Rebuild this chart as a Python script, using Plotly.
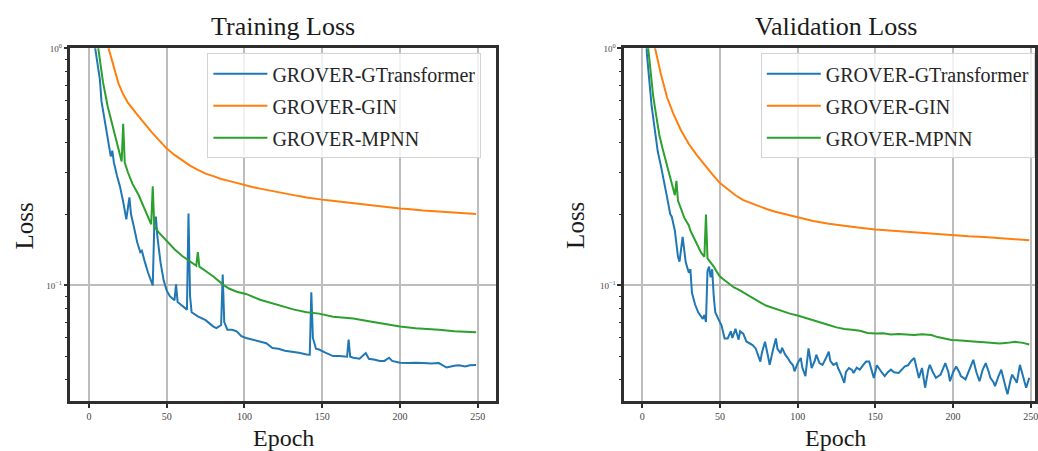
import plotly.graph_objects as go

# ---------------- data ----------------
series_names = ["GROVER-GTransformer", "GROVER-GIN", "GROVER-MPNN"]
series_colors = ["#1f77b4", "#ff7f0e", "#2ca02c"]

x_ticks = [0, 50, 100, 150, 200, 250]
x_tick_labels = ["0", "50", "100", "150", "200", "250"]
y_ticks = [0.1, 1.0]
y_tick_labels = ["10<sup>−1</sup>", "10<sup>0</sup>"]
minor_ticks = [0.04, 0.05, 0.06, 0.07, 0.08, 0.09, 0.2, 0.3, 0.4, 0.5, 0.6, 0.7, 0.8, 0.9]

# Training loss
train_gt_ep = [0, 3, 4, 7, 8, 10, 12, 14, 15, 16, 18, 20, 22, 24, 26, 27, 29, 31, 33, 34, 36, 38, 41, 42, 43, 44, 46, 48, 50, 52, 55, 56, 57, 60, 62, 63, 64, 65, 66, 70, 75, 80, 82, 85, 86, 87, 89, 92, 95, 98, 101, 105, 110, 114, 118, 122, 126, 130, 135, 140, 142, 143, 144, 146, 148, 152, 157, 161, 166, 167, 168, 170, 174, 178, 180, 184, 187, 190, 193, 195, 200, 205, 210, 215, 220, 225, 228, 230, 235, 238, 242, 245, 249]
train_gt = [3.0, 1.15, 1.0, 0.74, 0.6, 0.5, 0.42, 0.35, 0.37, 0.33, 0.29, 0.26, 0.225, 0.19, 0.235, 0.2, 0.175, 0.152, 0.138, 0.14, 0.125, 0.113, 0.1, 0.18, 0.195, 0.16, 0.125, 0.105, 0.095, 0.09, 0.0865, 0.101, 0.085, 0.082, 0.08, 0.079, 0.201, 0.09, 0.077, 0.074, 0.0713, 0.067, 0.066, 0.068, 0.111, 0.07, 0.065, 0.065, 0.064, 0.061, 0.06, 0.059, 0.058, 0.057, 0.0544, 0.054, 0.053, 0.0527, 0.052, 0.0511, 0.051, 0.0935, 0.06, 0.054, 0.0536, 0.052, 0.0503, 0.0503, 0.05, 0.059, 0.05, 0.0495, 0.049, 0.0518, 0.049, 0.0485, 0.048, 0.048, 0.0495, 0.048, 0.0472, 0.047, 0.0472, 0.047, 0.0468, 0.047, 0.046, 0.045, 0.0458, 0.046, 0.0455, 0.046, 0.0461]

train_gin_ep = [0, 5, 10, 13, 16, 19, 22, 25, 30, 35, 40, 45, 50, 55, 60, 65, 70, 75, 80, 85, 90, 95, 100, 105, 110, 115, 120, 125, 130, 135, 140, 145, 150, 155, 160, 165, 170, 175, 180, 185, 190, 195, 200, 205, 210, 215, 220, 225, 230, 235, 240, 245, 249]
train_gin = [3.0, 1.7, 1.15, 0.98, 0.82, 0.71, 0.64, 0.59, 0.535, 0.485, 0.445, 0.41, 0.378, 0.355, 0.336, 0.32, 0.307, 0.296, 0.289, 0.281, 0.276, 0.27, 0.265, 0.26, 0.256, 0.252, 0.248, 0.244, 0.241, 0.238, 0.235, 0.232, 0.23, 0.228, 0.226, 0.223, 0.222, 0.22, 0.218, 0.216, 0.214, 0.213, 0.211, 0.21, 0.208, 0.207, 0.206, 0.205, 0.204, 0.203, 0.203, 0.202, 0.2]

train_mpnn_ep = [0, 3, 6, 9, 12, 15, 18, 20, 21, 22, 23, 25, 28, 32, 35, 39, 40, 41, 42, 45, 49, 55, 60, 65, 69, 70, 71, 75, 80, 86, 90, 95, 101, 110, 118, 125, 132, 140, 148, 157, 165, 170, 180, 190, 200, 210, 220, 225, 235, 242, 249]
train_mpnn = [3.0, 1.6, 1.0, 0.72, 0.57, 0.475, 0.39, 0.345, 0.333, 0.48, 0.33, 0.3, 0.268, 0.24, 0.215, 0.185, 0.181, 0.262, 0.177, 0.167, 0.156, 0.142, 0.133, 0.126, 0.121, 0.138, 0.12, 0.115, 0.109, 0.101, 0.097, 0.094, 0.092, 0.087, 0.084, 0.081, 0.079, 0.077, 0.076, 0.0737, 0.0728, 0.0725, 0.0705, 0.0685, 0.067, 0.066, 0.0655, 0.0649, 0.064, 0.0638, 0.0634]

# Validation loss
val_gt_ep = [0, 2, 3, 6, 8, 10, 12, 15, 16, 18, 19, 20, 21, 23, 24, 26, 27, 28, 30, 31, 32, 34, 36, 38, 39, 40, 41, 42, 43, 44, 45, 46, 47, 49, 51, 53, 55, 57, 58, 60, 62, 63, 65, 67, 69, 71, 73, 74, 76, 77, 79, 81, 82, 84, 86, 87, 89, 90, 92, 94, 95, 97, 98, 100, 102, 103, 105, 107, 109, 111, 112, 114, 116, 118, 120, 121, 123, 125, 126, 128, 130, 131, 133, 135, 136, 138, 140, 142, 144, 146, 148, 149, 151, 152, 154, 156, 158, 160, 162, 165, 167, 169, 171, 173, 175, 176, 178, 180, 182, 184, 185, 187, 189, 192, 194, 195, 197, 198, 200, 202, 204, 205, 208, 210, 212, 213, 215, 217, 219, 221, 223, 224, 226, 227, 229, 231, 233, 235, 237, 238, 240, 241, 243, 245, 247, 249]
val_gt = [3.0, 1.3, 0.95, 0.574, 0.45, 0.367, 0.32, 0.26, 0.235, 0.2, 0.195, 0.182, 0.17, 0.132, 0.126, 0.16, 0.14, 0.125, 0.113, 0.117, 0.093, 0.083, 0.077, 0.074, 0.0722, 0.075, 0.07, 0.115, 0.12, 0.108, 0.117, 0.09, 0.077, 0.072, 0.0678, 0.0597, 0.0597, 0.064, 0.06, 0.0656, 0.059, 0.064, 0.0626, 0.058, 0.0569, 0.056, 0.0542, 0.052, 0.0477, 0.052, 0.0578, 0.05, 0.0462, 0.053, 0.0597, 0.054, 0.0517, 0.0545, 0.051, 0.049, 0.0477, 0.046, 0.0434, 0.047, 0.0494, 0.045, 0.0414, 0.0542, 0.0448, 0.048, 0.051, 0.047, 0.0462, 0.049, 0.0525, 0.048, 0.0462, 0.047, 0.0448, 0.042, 0.0388, 0.043, 0.0448, 0.044, 0.0427, 0.045, 0.0441, 0.046, 0.0477, 0.0477, 0.043, 0.0407, 0.046, 0.0448, 0.043, 0.0414, 0.043, 0.0441, 0.043, 0.0427, 0.044, 0.0455, 0.046, 0.048, 0.0494, 0.046, 0.0407, 0.0448, 0.037, 0.044, 0.0462, 0.043, 0.0407, 0.042, 0.045, 0.047, 0.043, 0.0394, 0.043, 0.0455, 0.043, 0.0414, 0.0401, 0.043, 0.046, 0.0485, 0.043, 0.0394, 0.044, 0.047, 0.043, 0.0407, 0.039, 0.0376, 0.041, 0.0441, 0.039, 0.0347, 0.04, 0.042, 0.04, 0.0388, 0.0462, 0.041, 0.037, 0.0407]

val_gin_ep = [0, 4, 8, 12, 16, 20, 25, 30, 35, 40, 45, 50, 55, 60, 65, 70, 75, 80, 85, 90, 95, 100, 110, 120, 125, 130, 140, 150, 160, 170, 175, 180, 190, 200, 210, 220, 225, 230, 240, 249]
val_gin = [3.0, 1.6, 1.02, 0.78, 0.62, 0.53, 0.45, 0.395, 0.355, 0.322, 0.295, 0.27, 0.254, 0.24, 0.229, 0.222, 0.215, 0.21, 0.205, 0.201, 0.197, 0.194, 0.187, 0.182, 0.18, 0.178, 0.175, 0.172, 0.17, 0.168, 0.167, 0.166, 0.164, 0.163, 0.161, 0.16, 0.159, 0.158, 0.157, 0.155]

val_mpnn_ep = [0, 2, 4, 7, 9, 11, 13, 16, 18, 20, 21, 22, 23, 25, 27, 30, 31, 34, 36, 38, 40, 41, 42, 44, 46, 48, 50, 53, 56, 59, 62, 66, 70, 73, 77, 80, 83, 87, 91, 95, 100, 105, 110, 115, 120, 125, 130, 135, 140, 145, 150, 155, 160, 165, 170, 175, 180, 186, 190, 195, 199, 205, 210, 215, 220, 225, 230, 235, 240, 245, 249]
val_mpnn = [3.0, 1.5, 0.98, 0.632, 0.52, 0.431, 0.38, 0.32, 0.28, 0.25, 0.24, 0.276, 0.228, 0.21, 0.193, 0.179, 0.17, 0.155, 0.145, 0.137, 0.132, 0.199, 0.13, 0.125, 0.12, 0.114, 0.109, 0.105, 0.101, 0.098, 0.096, 0.0925, 0.089, 0.087, 0.084, 0.082, 0.0807, 0.079, 0.0775, 0.076, 0.0746, 0.073, 0.0715, 0.07, 0.068, 0.0665, 0.0655, 0.065, 0.0643, 0.063, 0.0626, 0.0628, 0.062, 0.0623, 0.062, 0.0618, 0.0622, 0.0617, 0.0605, 0.0595, 0.0588, 0.0585, 0.058, 0.0578, 0.0575, 0.057, 0.0569, 0.0572, 0.0578, 0.0572, 0.0563]

# ---------------- figure ----------------
W, H = 1038, 451
FONT = "Liberation Serif"
fig = go.Figure()

train = [(train_gt_ep, train_gt), (train_gin_ep, train_gin), (train_mpnn_ep, train_mpnn)]
valid = [(val_gt_ep, val_gt), (val_gin_ep, val_gin), (val_mpnn_ep, val_mpnn)]

for (ep, vals), name, col in zip(train, series_names, series_colors):
    fig.add_trace(go.Scatter(x=ep, y=vals, mode="lines", name=name,
                             line=dict(color=col, width=2),
                             xaxis="x", yaxis="y", legend="legend",
                             legendgroup="t" + name))
for (ep, vals), name, col in zip(valid, series_names, series_colors):
    fig.add_trace(go.Scatter(x=ep, y=vals, mode="lines", name=name,
                             line=dict(color=col, width=2),
                             xaxis="x2", yaxis="y2", legend="legend2",
                             legendgroup="v" + name))

y_top = 1 - 42 / H
y_bot = 1 - 400 / H

common_x = dict(tickvals=x_ticks, ticktext=x_tick_labels, showgrid=True,
                gridcolor="#bdbdbd", gridwidth=1.5, showline=True, linecolor="#2e2e2e",
                linewidth=2.5, mirror=True, ticks="outside", ticklen=4, tickwidth=1.5,
                tickcolor="#2e2e2e", zeroline=False, ticklabeloverflow="allow",
                tickfont=dict(family=FONT, size=10, color="#444"))
common_y = dict(type="log", range=[-1.487, 0], domain=[y_bot, y_top],
                tickvals=y_ticks, ticktext=y_tick_labels, showgrid=True,
                gridcolor="#bdbdbd", gridwidth=1.5, showline=True, linecolor="#2e2e2e",
                linewidth=2.5, mirror=True, ticks="outside", ticklen=4, tickwidth=1.5,
                tickcolor="#2e2e2e", zeroline=False,
                tickfont=dict(family=FONT, size=9, color="#444"),
                minor=dict(tickvals=minor_ticks, ticks="outside", ticklen=2.5,
                           tickwidth=1.2, tickcolor="#2e2e2e", showgrid=False))

legend_common = dict(xanchor="left", yanchor="top", bgcolor="rgba(255,255,255,0.8)",
                     bordercolor="#d4d4d4", borderwidth=1,
                     font=dict(family=FONT, size=20, color="#262626"),
                     itemwidth=54, tracegroupgap=3, traceorder="grouped")

fig.update_layout(
    width=W, height=H, margin=dict(l=0, r=0, t=0, b=0),
    paper_bgcolor="white", plot_bgcolor="white",
    xaxis=dict(domain=[70.7 / W, 497.3 / W], range=[-11.9, 261.7], anchor="y", **common_x),
    yaxis=dict(anchor="x", **common_y),
    xaxis2=dict(domain=[626 / W, 1.0], range=[-11.6, 252.7], anchor="y2", **common_x),
    yaxis2=dict(anchor="x2", **common_y),
    legend=dict(x=208 / W, y=1 - 47 / H, **legend_common),
    legend2=dict(x=763 / W, y=1 - 47 / H, **legend_common),
)

def label(text, x, y, size, angle=0):
    fig.add_annotation(text=text, x=x / W, y=1 - y / H, xref="paper", yref="paper",
                       showarrow=False, textangle=angle, xanchor="center", yanchor="middle",
                       font=dict(family=FONT, size=size, color="#1a1a1a"))

label("Training Loss", 284, 20, 26)
label("Validation Loss", 839, 20, 26)
label("Epoch", 284, 438, 24)
label("Epoch", 838, 438, 24)
label("Loss", 25, 222, 25, -90)
label("Loss", 577, 222, 25, -90)

fig.write_html("out.html", config={"displayModeBar": False},
               post_script="document.body.style.margin='0';document.body.style.overflow='hidden';")
